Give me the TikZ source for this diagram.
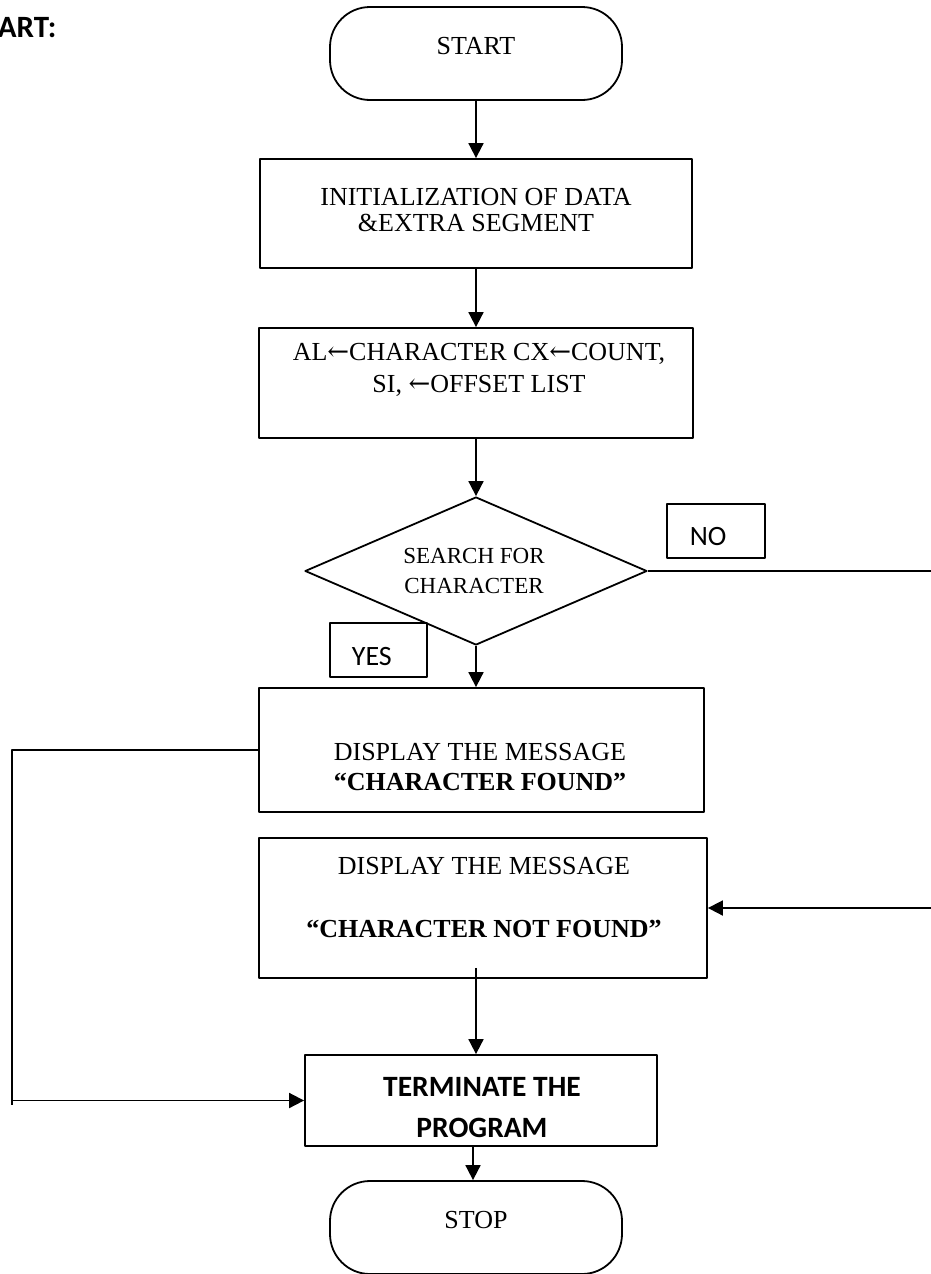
\documentclass[tikz,border=0pt]{standalone}
\usepackage{fontspec}
\setmainfont{Liberation Serif}
\newfontfamily\calfont{Carlito}
\newfontfamily\arrfont{DejaVu Serif}
\usetikzlibrary{arrows.meta,shapes.geometric}
\newcommand{\larr}{{\arrfont\symbol{"2190}}}
\begin{document}
\begin{tikzpicture}[x=1pt, y=-1pt, line join=round, >={Triangle[length=15pt,width=15pt]},
	box/.style={draw, line width=1.8pt, inner sep=0pt},
	oval/.style={box, rounded corners=40pt, minimum width=292pt, minimum height=93pt},
	tx/.style={anchor=base, inner sep=0pt, font=\fontsize{26}{30}\selectfont},
	dtx/.style={tx, font=\fontsize{23}{27}\selectfont},
	ctx/.style={anchor=base west, inner sep=0pt, font=\fontsize{28}{32}\selectfont\calfont},
	btx/.style={tx, font=\fontsize{29.5}{33}\selectfont\calfont\bfseries},
	every path/.style={line width=1.8pt}]
	\useasboundingbox (0,0) rectangle (930,1274);
	\coordinate (rgt) at (936,0);
	\coordinate (lft) at (12,1105);
	\node[anchor=base west, inner sep=0pt, font=\fontsize{31}{34}\selectfont\calfont\bfseries] (head) at (-3,37) {ART:};
	\node[oval] (start) at (476,53.5) {};
	\node[tx] (start-t) at (476,54) {START};
	\node[box, minimum width=432pt, minimum height=109pt] (init) at (476,213.5) {};
	\node[tx] (init-a) at (476,205) {INITIALIZATION OF DATA};
	\node[tx] (init-b) at (476,231) {\&EXTRA SEGMENT};
	\node[box, minimum width=434pt, minimum height=110pt] (load) at (476,383) {};
	\node[tx] (load-a) at (479,360) {AL\larr CHARACTER CX\larr COUNT,};
	\node[tx] (load-b) at (479,392) {SI, \larr OFFSET LIST};
	\node[box, shape=diamond, minimum width=342pt, minimum height=148pt] (srch) at (476,571) {};
	\node[dtx] (srch-a) at (474,563) {SEARCH FOR};
	\node[dtx] (srch-b) at (474,593) {CHARACTER};
	\node[box, minimum width=98pt, minimum height=54pt] (no) at (716,531) {};
	\node[ctx] (no-t) at (689,545) {NO};
	\node[box, minimum width=97pt, minimum height=54pt] (yes) at (378.5,650) {};
	\node[ctx] (yes-t) at (351,665) {YES};
	\node[box, minimum width=445pt, minimum height=124pt] (found) at (481.5,750) {};
	\node[tx] (found-a) at (480,760) {DISPLAY THE MESSAGE};
	\node[tx] (found-b) at (480,790) {\bfseries “CHARACTER FOUND”};
	\node[box, minimum width=448pt, minimum height=140pt] (miss) at (483,908) {};
	\node[tx] (miss-a) at (484,874) {DISPLAY THE MESSAGE};
	\node[tx] (miss-b) at (484,937) {\bfseries “CHARACTER NOT FOUND”};
	\node[box, minimum width=352pt, minimum height=91pt] (quit) at (481,1100.5) {};
	\node[btx] (quit-a) at (482,1096) {TERMINATE THE};
	\node[btx] (quit-b) at (482,1137) {PROGRAM};
	\node[oval] (stop) at (476,1227.5) {};
	\node[tx] (stop-t) at (476,1228) {STOP};
	\draw[->] (start.south) -- (init.north);
	\draw[->] (init.south) -- (load.north);
	\draw[->] (load.south) -- (srch.north);
	\draw[->] (srch.south) -- (srch.south |- found.north);
	\draw[->] (srch.east) -- (srch.east -| rgt) |- (miss.east);
	\draw (found.west) -| (lft);
	\draw[->] (lft |- quit.west) -- (quit.west);
	\draw[->] ([yshift=11pt]miss.south -| stop.north) -- (stop.north |- quit.north);
	\draw[->] ([xshift=-3pt]quit.south -| stop.north) -- ([xshift=-3pt]stop.north);
\end{tikzpicture}
\end{document}
